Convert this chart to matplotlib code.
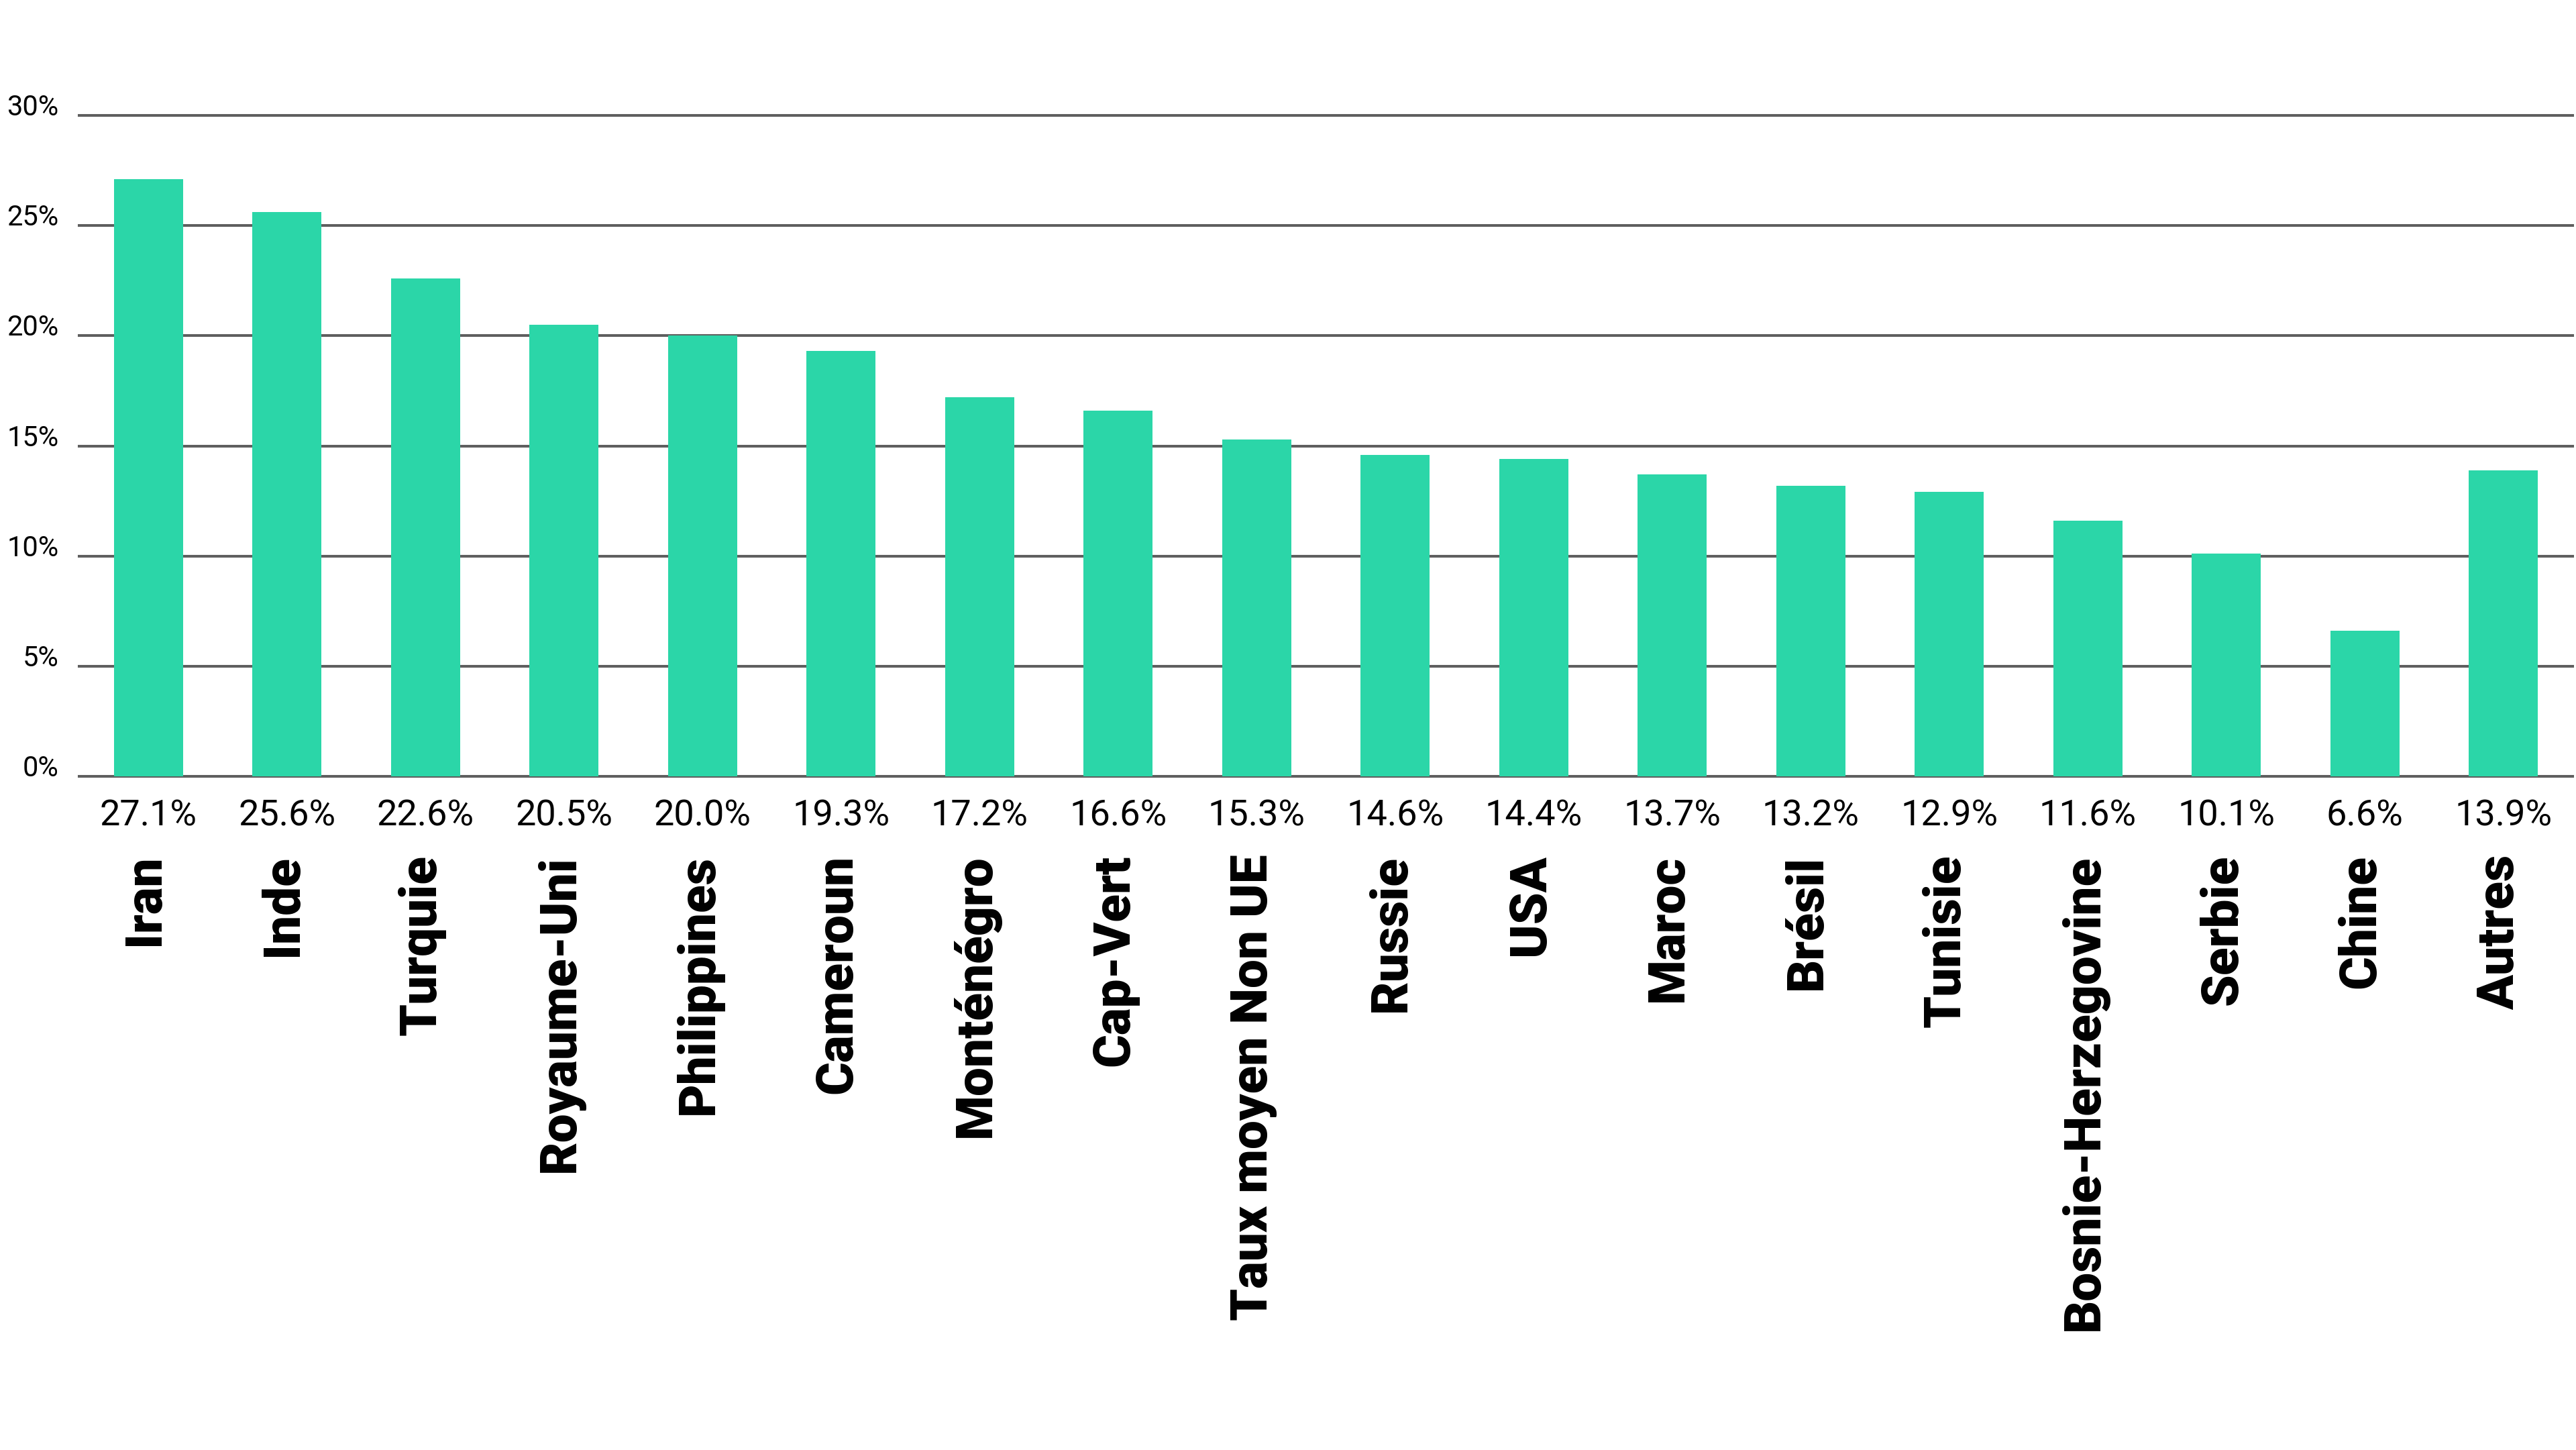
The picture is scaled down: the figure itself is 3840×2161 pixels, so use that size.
import matplotlib.pyplot as plt
from matplotlib.transforms import blended_transform_factory

# Data
countries = ["Iran", "Inde", "Turquie", "Royaume-Uni", "Philippines", "Cameroun",
             "Monténégro", "Cap-Vert", "Taux moyen Non UE", "Russie", "USA", "Maroc",
             "Brésil", "Tunisie", "Bosnie-Herzegovine", "Serbie", "Chine", "Autres"]
values = [27.1, 25.6, 22.6, 20.5, 20.0, 19.3, 17.2, 16.6, 15.3, 14.6, 14.4, 13.7,
          13.2, 12.9, 11.6, 10.1, 6.6, 13.9]
yticks = [0, 5, 10, 15, 20, 25, 30]

bar_color = "#2BD6A8"
grid_color = "#5f5f5f"

plt.rcParams['font.family'] = ['Roboto', 'DejaVu Sans']

fig = plt.figure(figsize=(19.2, 10.805), dpi=200)
ax = fig.add_axes([0.0307, 0.4646, 0.968, 0.4558])

x = range(len(values))
ax.bar(x, values, width=0.5, color=bar_color, zorder=3)

ax.set_xlim(-0.5, len(values) - 0.5)
ax.set_ylim(0, 30)

# gridlines
for v in yticks:
    ax.axhline(v, color=grid_color, lw=1.45, zorder=2, clip_on=False)

ax.set_yticks(yticks)
ax.set_yticklabels([f"{v}%" for v in yticks], fontsize=15, va='baseline')
ax.tick_params(axis='y', length=0, pad=11)

ax.set_xticks(list(x))
ax.set_xticklabels([f"{v:.1f}%" for v in values], fontsize=19.5)
ax.tick_params(axis='x', length=0, pad=12)

for s in ax.spines.values():
    s.set_visible(False)

# country names below the value labels
trans = blended_transform_factory(ax.transData, ax.transAxes)
for i, name in enumerate(countries):
    ax.annotate(name, xy=(i, 0), xycoords=trans, xytext=(-2, -42),
                textcoords='offset points', rotation=90, ha='center', va='top',
                fontsize=27.5, fontweight='heavy')

fig.savefig("out.png", dpi=200, facecolor="white")
